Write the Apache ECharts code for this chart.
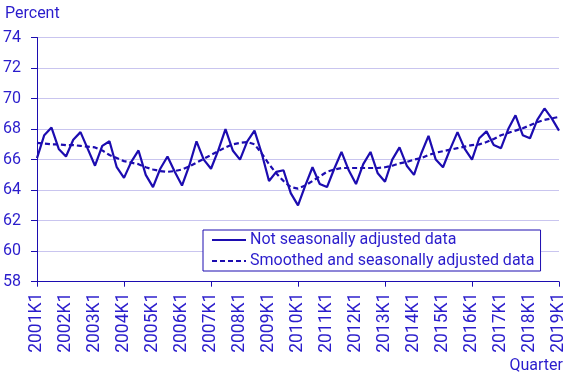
<!DOCTYPE html>
<html><head><meta charset="utf-8">
<script src="https://cdn.jsdelivr.net/npm/echarts@6/dist/echarts.min.js"></script>
<style>html,body{margin:0;padding:0;background:#fff}#c{width:568px;height:378px}</style>
</head><body><div id="c"></div>
<script>
const years = [];
for (let y = 2001; y <= 2019; y++) years.push(y);
const categories = [];
years.forEach(y => { for (let q = 1; q <= 4; q++) { if (y === 2019 && q > 1) break; categories.push(y + 'K' + q); } });

const notAdjusted = [
  66.1, 67.6, 68.1, 66.7,
  66.2, 67.3, 67.8, 66.7,
  65.6, 66.9, 67.2, 65.5,
  64.8, 65.85, 66.6, 65.0,
  64.2, 65.4, 66.2, 65.2,
  64.3, 65.6, 67.2, 66.0,
  65.4, 66.6, 68.0, 66.6,
  66.0, 67.2, 67.9, 66.4,
  64.6, 65.2, 65.3, 63.8,
  63.0, 64.3, 65.5, 64.4,
  64.2, 65.4, 66.5, 65.3,
  64.4, 65.7, 66.5, 65.1,
  64.55, 66.0, 66.8, 65.6,
  65.0, 66.4, 67.55, 66.0,
  65.5, 66.7, 67.8, 66.7,
  66.0, 67.4, 67.85, 66.95,
  66.75, 68.0, 68.9, 67.6,
  67.4, 68.6, 69.35, 68.7,
  67.9
];
const smoothed = [
  67.1, 67.05, 67.0, 67.0,
  66.95, 66.95, 66.9, 66.85,
  66.8, 66.6, 66.3, 66.1,
  65.9, 65.8, 65.7, 65.5,
  65.35, 65.25, 65.2, 65.25,
  65.35, 65.55, 65.8, 66.05,
  66.3, 66.55, 66.8, 67.0,
  67.1, 67.15, 67.0, 66.4,
  65.7, 65.1, 64.6, 64.2,
  64.1, 64.3, 64.6, 64.9,
  65.2, 65.35, 65.45, 65.45,
  65.45, 65.45, 65.45, 65.45,
  65.5, 65.6, 65.75, 65.85,
  66.0, 66.1, 66.3, 66.45,
  66.55, 66.65, 66.75, 66.85,
  66.95, 67.0, 67.15, 67.35,
  67.6, 67.75, 67.9, 68.05,
  68.25, 68.45, 68.6, 68.7,
  68.8
];
const seriesNames = ['Not seasonally adjusted data', 'Smoothed and seasonally adjusted data'];
const yTitle = 'Percent';
const xTitle = 'Quarter';

const lineColor = '#1c0cb0';
const textColor = '#2a1ccc';
const font = 'Roboto';

const chart = echarts.init(document.getElementById('c'), null, {renderer: 'canvas'});
chart.setOption({
  animation: false,
  backgroundColor: '#fff',
  textStyle: {fontFamily: font, color: textColor},
  grid: {left: 37, right: 9, top: 37.5, bottom: 96.3, containLabel: false},
  graphic: [
    {type: 'text', left: 5, top: 6, style: {text: yTitle, font: '16px Roboto', fill: textColor}},
    {type: 'text', right: 5, top: 358, style: {text: xTitle, font: '16px Roboto', fill: textColor}}
  ],
  legend: {
    orient: 'vertical',
    left: 203, top: 230,
    padding: [2, 6, 2, 8],
    itemGap: 5,
    itemWidth: 34, itemHeight: 16,
    backgroundColor: '#fff',
    borderColor: lineColor, borderWidth: 1,
    itemStyle: {opacity: 0},
    textStyle: {fontFamily: font, fontSize: 16, color: textColor, padding: [0, 0, 0, -1]},
    data: seriesNames
  },
  xAxis: {
    type: 'category',
    data: categories,
    boundaryGap: false,
    axisLine: {lineStyle: {color: lineColor, width: 1}},
    axisTick: {length: 5, interval: (i) => i % 12 === 0, lineStyle: {color: lineColor}},
    axisLabel: {rotate: 90, interval: (i) => i % 4 === 0, margin: 11, fontSize: 17.5, fontFamily: font, color: textColor},
    splitLine: {show: false}
  },
  yAxis: {
    type: 'value',
    min: 58, max: 74, interval: 2,
    axisLine: {show: true, lineStyle: {color: lineColor, width: 1}},
    axisTick: {show: true, length: 6, lineStyle: {color: lineColor}},
    axisLabel: {margin: 16, fontSize: 16, fontFamily: font, color: textColor},
    splitLine: {lineStyle: {color: '#c9c5ef', width: 1}}
  },
  series: [
    {name: seriesNames[0], type: 'line', data: notAdjusted, symbol: 'none',
     lineStyle: {color: lineColor, width: 2.2}, itemStyle: {color: lineColor}},
    {name: seriesNames[1], type: 'line', data: smoothed, symbol: 'none',
     lineStyle: {color: lineColor, width: 2.2, type: [5, 3]}, itemStyle: {color: lineColor}}
  ]
});
</script></body></html>
